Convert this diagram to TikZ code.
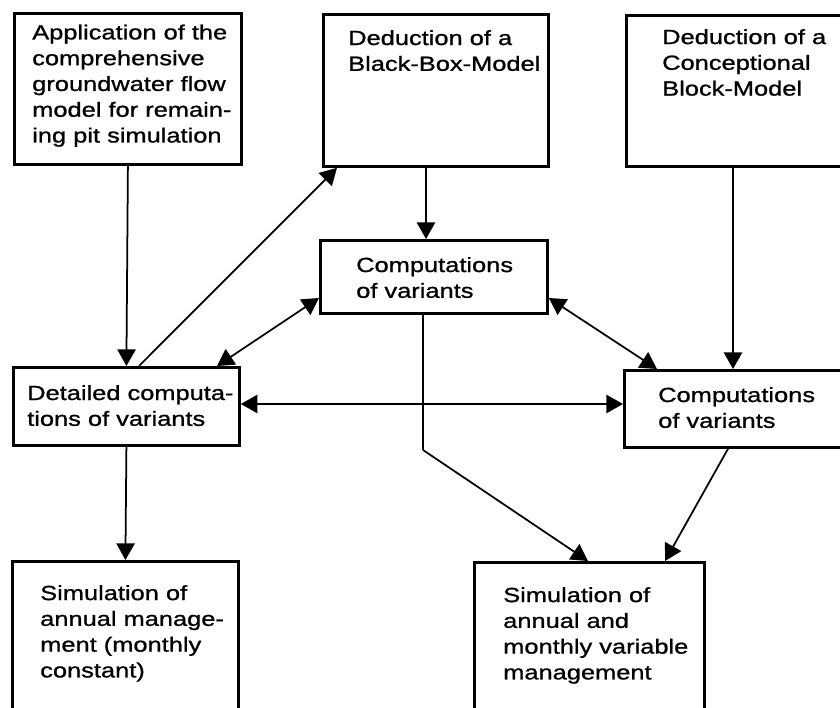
\documentclass[tikz,border=0pt]{standalone}
\usepackage{fontspec}
\setmainfont{Liberation Sans}[FakeStretch=1.24, FakeBold=1]
\usetikzlibrary{arrows.meta}

\begin{document}
\begin{tikzpicture}[x=0.03cm,y=-0.03cm,
  box/.style={draw, line width=2.4pt, rectangle, inner sep=0pt, anchor=north west},
  sz/.style 2 args={minimum width={#1*0.03cm}, minimum height={#2*0.03cm}},
  % labels are placed by the baseline of their last line
  lbl/.style={anchor=base west, align=left, inner sep=0pt,
              font=\fontsize{17.5}{22}\selectfont},
  link/.style={line width=1.5pt, -{Triangle[length=0.5cm,width=0.55cm]}},
  both/.style={line width=1.5pt, {Triangle[length=0.5cm,width=0.55cm]}-{Triangle[length=0.5cm,width=0.55cm]}},
  plain/.style={line width=1.1pt}]

\clip (0,0) rectangle (840,708);

% boxes
\node[box, sz={227}{151}] (a) at (13,12) {};
\node[box, sz={225}{152}] (b) at (322,13) {};
\node[box, sz={240}{151}] (c) at (625,14) {};
\node[box, sz={227}{73}]  (d) at (319,239) {};
\node[box, sz={226}{78}]  (e) at (12,366) {};
\node[box, sz={240}{77}]  (f) at (623,369) {};
\node[box, sz={226}{170}] (h) at (11,560) {};
\node[box, sz={230}{170}] (g) at (473,561) {};

% box texts
\node[lbl] (a-txt) at (32,142.5) {Application of the\\comprehensive\\groundwater flow\\model for remain-\\ing pit simulation};
\node[lbl] (b-txt) at (348,70.8) {Deduction of a\\Black-Box-Model};
\node[lbl] (c-txt) at (662,95.6) {Deduction of a\\Conceptional\\Block-Model};
\node[lbl] (d-txt) at (356,297.8) {Computations\\of variants};
\node[lbl] (e-txt) at (27,425.8) {Detailed computa-\\tions of variants};
\node[lbl] (f-txt) at (658,427.8) {Computations\\of variants};
\node[lbl] (h-txt) at (40,677.4) {Simulation of\\annual manage-\\ment (monthly\\constant)};
\node[lbl] (g-txt) at (503,679.4) {Simulation of\\annual and\\monthly variable\\management};

% connectors
\draw[link] (a.south) -- (e.north);
\draw[link] (b.south -| 426,0) -- (d.north -| 426,0);
\draw[link] (c.south -| 733,0) -- (f.north -| 733,0);
\draw[link] (e.north -| 139,0) -- (b.south -| 337,0);
\draw[both] (d.west |- 0,298) -- (e.north -| 217,0);
\draw[both] (d.east |- 0,298) -- (f.north -| 657,0);
\draw[both] (e.east |- 0,404) -- (f.west |- 0,404);
\coordinate (bend) at (423,450);
\draw[plain] (d.south -| 423,0) -- (bend);
\draw[link] (bend) -- (g.north -| 588,0);
\draw[link] (f.south -| 728,0) -- (g.north -| 665,0);
\draw[link] (e.south) -- (h.north);
\end{tikzpicture}
\end{document}
